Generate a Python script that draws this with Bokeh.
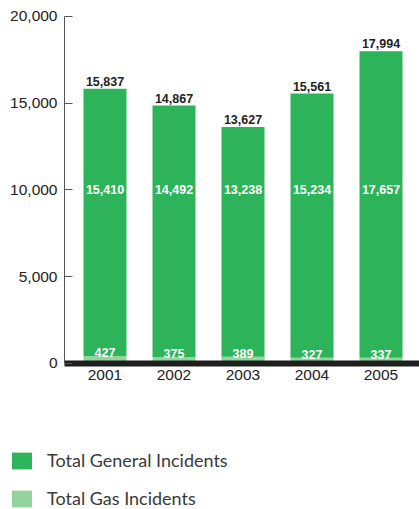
from bokeh.plotting import figure
from bokeh.models import (ColumnDataSource, Range1d, NumeralTickFormatter,
                          FixedTicker, Legend, LegendItem)
from bokeh.embed import file_html
from bokeh.resources import INLINE
from bokeh.core.properties import value

years = ["2001", "2002", "2003", "2004", "2005"]
general = [15410, 14492, 13238, 15234, 17657]
gas = [427, 375, 389, 327, 337]
totals = [15837, 14867, 13627, 15561, 17994]
y_ticks = [0, 5000, 10000, 15000, 20000]
legend_labels = ["Total General Incidents", "Total Gas Incidents"]

GREEN = "#2db45a"
LIGHT = "#93d39c"

xs = list(range(len(years)))
src = ColumnDataSource(dict(
    x=xs,
    general=general,
    gas=gas,
    total=[g + h for g, h in zip(general, gas)],
    total_lbl=[f"{t:,}" for t in totals],
    general_lbl=[f"{v:,}" for v in general],
    gas_lbl=[f"{v:,}" for v in gas],
    mid=[10000] * len(years),
))

AXIS_X = -0.587
p = figure(x_range=Range1d(-1.5145, 4.558), y_range=Range1d(-8415, 20922),
           width=419, height=509, output_backend="svg", toolbar_location=None,
           min_border=0, outline_line_color=None)

r_gas = p.vbar(x="x", bottom=0, top="gas", width=0.623, source=src,
               fill_color=LIGHT, line_color=None)
r_gen = p.vbar(x="x", bottom="gas", top="total", width=0.623, source=src,
               fill_color=GREEN, line_color=None)

p.text(x="x", y="total", text="total_lbl", source=src, text_align="center",
       text_baseline="bottom", y_offset=-3, text_font=value("Liberation Sans"),
       text_font_style="bold", text_font_size="12.5px", text_color="#222222")
p.text(x="x", y="mid", text="general_lbl", source=src, text_align="center",
       text_baseline="middle", text_font=value("Liberation Sans"),
       text_font_style="bold", text_font_size="12.5px", text_color="white")
p.text(x="x", y="gas", text="gas_lbl", source=src, text_align="center",
       text_baseline="bottom", y_offset=1, text_font=value("Liberation Sans"),
       text_font_style="bold", text_font_size="12.5px", text_color="white")

p.grid.visible = False

ya = p.yaxis[0]
ya.fixed_location = AXIS_X
ya.bounds = (y_ticks[0], y_ticks[-1])
ya.ticker = FixedTicker(ticks=y_ticks)
ya.formatter = NumeralTickFormatter(format="0,0")
ya.major_tick_in = 8
ya.major_tick_out = 0
ya.minor_tick_line_color = None
ya.axis_line_color = "#555555"
ya.major_tick_line_color = "#555555"
ya.major_label_standoff = 7
ya.major_label_text_font = "Liberation Sans"
ya.major_label_text_font_size = "15.5px"
ya.major_label_text_color = "#222222"

xa = p.xaxis[0]
xa.fixed_location = 0
xa.bounds = (AXIS_X, 4.558)
xa.ticker = FixedTicker(ticks=xs)
xa.major_label_overrides = {i: y for i, y in zip(xs, years)}
xa.axis_line_width = 6
xa.axis_line_color = "#1e1e1e"
xa.major_tick_line_color = None
xa.minor_tick_line_color = None
xa.major_tick_in = 0
xa.major_tick_out = 0
xa.major_label_standoff = 7
xa.major_label_text_font = "Liberation Sans"
xa.major_label_text_font_size = "15.5px"
xa.major_label_text_color = "#222222"

leg = Legend(items=[LegendItem(label=legend_labels[0], renderers=[r_gen]),
                    LegendItem(label=legend_labels[1], renderers=[r_gas])],
             location=(9, 0), margin=0, padding=0, spacing=16,
             glyph_width=25, glyph_height=21, label_standoff=13,
             label_text_font="Lato", label_text_font_size="18px",
             label_text_color="#3a3a3a", border_line_color=None,
             background_fill_alpha=0)
p.add_layout(leg)

open("out.html", "w").write(file_html(p, INLINE))
